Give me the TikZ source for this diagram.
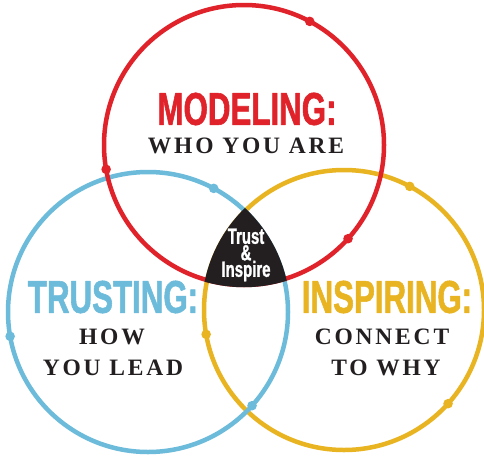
\documentclass[tikz,border=0pt]{standalone}
\usepackage{fontspec}
\newfontfamily\headfont[FakeStretch=0.68,FakeBold=1.2]{Liberation Sans Bold}
\newfontfamily\capsfont[LetterSpace=12]{Liberation Serif Bold}
\definecolor{vennRed}{HTML}{E0232A}
\definecolor{vennBlue}{HTML}{6DBBDA}
\definecolor{vennYellow}{HTML}{E9B422}
\definecolor{vennInk}{HTML}{231F20}

\begin{document}
\begin{tikzpicture}[x=1pt,y=-1pt,line cap=round,line join=round]
\useasboundingbox[fill=white] (0,0) rectangle (484,455);
\tikzset{ring/.style={draw=#1,circle,line width=4.5pt,minimum size=280pt,inner sep=0pt,outer sep=0pt},head/.style={text=#1,font=\headfont\fontsize{46}{46}\selectfont,inner sep=0pt},sub/.style={text=vennInk,font=\capsfont\fontsize{23.5}{23.5}\selectfont,inner sep=0pt}}
% the three circles
\node[ring=vennYellow] (inspiring) at (344,310) {};
\node[ring=vennBlue] (trusting) at (148,312) {};
\node[ring=vennRed] (modeling) at (244,145) {};
\foreach \c/\col in {inspiring/vennYellow,trusting/vennBlue,modeling/vennRed}
  \foreach \a in {62,190,318}
    \fill[\col] (\c.\a) circle (4.8);
% centre
\begin{scope}
\clip (modeling.center) circle (142.2);
\clip (trusting.center) circle (142.2);
\fill[vennInk] (inspiring.center) circle (142.2);
\end{scope}
\node[text=white,font=\headfont\fontsize{22}{16.5}\selectfont,align=center,inner sep=0pt] (core) at (246,255) {Trust\\\&\\Inspire};
% labels
\node[head=vennRed] (modtitle) at (247,109) {MODELING:};
\node[sub] (modtext) at (246,146) {WHO YOU ARE};
\node[head=vennBlue] (trutitle) at (113,297) {TRUSTING:};
\node[sub] (trutext1) at (112,337) {HOW};
\node[sub] (trutext2) at (113,368) {YOU LEAD};
\node[head=vennYellow] (institle) at (387,297) {INSPIRING:};
\node[sub] (instext1) at (382,337) {CONNECT};
\node[sub] (instext2) at (386,368) {TO WHY};
\end{tikzpicture}
\end{document}
